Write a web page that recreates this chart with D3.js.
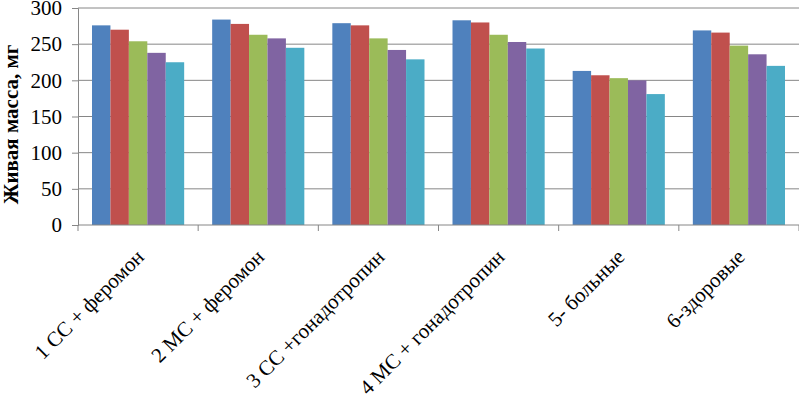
<!DOCTYPE html>
<html>
<head>
<meta charset="utf-8">
<script src="https://cdn.jsdelivr.net/npm/d3@7"></script>
<style>
  body { margin: 0; background: #fff; }
  svg text { font-family: "Liberation Serif", "DejaVu Serif", serif !important; }
</style>
</head>
<body>
<div id="chart"></div>
<script>
// categories on the x axis
let categories = ["1 CC + феромон", "2 МС + феромон", "3 CC +гонадотропин",
                  "4 МС + гонадотропин", "5- больные", "6-здоровые"];

// five unnamed series (no legend in the picture)
let series1 = [276, 284, 279, 283, 213, 269];
let series2 = [270, 278, 276, 280, 207, 266];
let series3 = [254, 263, 258, 263, 203, 248];
let series4 = [238, 258, 242, 253, 200, 236];
let series5 = [225, 245, 229, 244, 181, 220];

let yTicks = [0, 50, 100, 150, 200, 250, 300];
let yTitle = "Живая масса, мг";

let colors = ["#4F81BD", "#C0504D", "#9BBB59", "#8064A2", "#4BACC6"];
let allSeries = [series1, series2, series3, series4, series5];

// set margins, width, height
let margin = {top: 8, right: 0, bottom: 169, left: 78};
let width = 799 - margin.left - margin.right;
let height = 394 - margin.top - margin.bottom;

let svg = d3.select("#chart").append("svg")
    .attr("width", 799)
    .attr("height", 394)
    .append("g")
    .attr("transform", "translate(" + margin.left + "," + margin.top + ")");

// scales
let x0 = d3.scaleBand().domain(categories).range([0, width]).padding(0);
let gap = 14;
let x1 = d3.scaleBand().domain(d3.range(allSeries.length))
    .range([gap, x0.bandwidth() - gap]).padding(0);
let y = d3.scaleLinear().domain([0, 300]).range([height, 0]);

// gridlines
svg.selectAll(".grid")
    .data(yTicks.filter(d => d > 0))
    .enter().append("line")
    .attr("class", "grid")
    .attr("x1", 0).attr("x2", width)
    .attr("y1", d => y(d)).attr("y2", d => y(d))
    .style("stroke", "#868686").style("stroke-width", 1);

// bars
let groups = svg.selectAll(".cat")
    .data(categories)
    .enter().append("g")
    .attr("transform", d => "translate(" + x0(d) + ",0)");

groups.selectAll("rect")
    .data((d, i) => allSeries.map((s, j) => ({s: j, v: s[i]})))
    .enter().append("rect")
    .attr("x", d => x1(d.s))
    .attr("y", d => y(d.v))
    .attr("width", x1.bandwidth())
    .attr("height", d => height - y(d.v))
    .style("fill", d => colors[d.s]);

// y axis
let yAxis = svg.append("g")
    .call(d3.axisLeft(y).tickValues(yTicks).tickSize(6).tickPadding(10));
yAxis.selectAll("text").style("font-size", "21px").style("fill", "#000");
yAxis.selectAll("line, path").style("stroke", "#868686");

// x axis
let xAxis = svg.append("g")
    .attr("transform", "translate(0," + height + ")")
    .call(d3.axisBottom(x0).tickSize(0).tickFormat(""));
xAxis.select("path").remove();
xAxis.append("line").attr("x1", 0).attr("x2", width)
    .style("stroke", "#868686");
xAxis.selectAll(".sep")
    .data(d3.range(categories.length + 1))
    .enter().append("line")
    .attr("x1", d => d * x0.step()).attr("x2", d => d * x0.step())
    .attr("y1", 0).attr("y2", 6)
    .style("stroke", "#868686");

// rotated category labels
svg.selectAll(".xlabel")
    .data(categories)
    .enter().append("text")
    .attr("class", "xlabel")
    .attr("transform", d => "translate(" + (x0(d) + x0.bandwidth() / 2 + 2) + "," + (height + 28) + ") rotate(-45)")
    .attr("text-anchor", "end")
    .attr("dy", "0.35em")
    .style("font-size", "21px")
    .text(d => d);

// y title
svg.append("text")
    .attr("transform", "translate(" + (-margin.left + 18) + "," + (height / 2 + 8) + ") rotate(-90)")
    .attr("text-anchor", "middle")
    .style("font-size", "21px")
    .style("font-weight", "bold")
    .text(yTitle);
</script>
</body>
</html>
